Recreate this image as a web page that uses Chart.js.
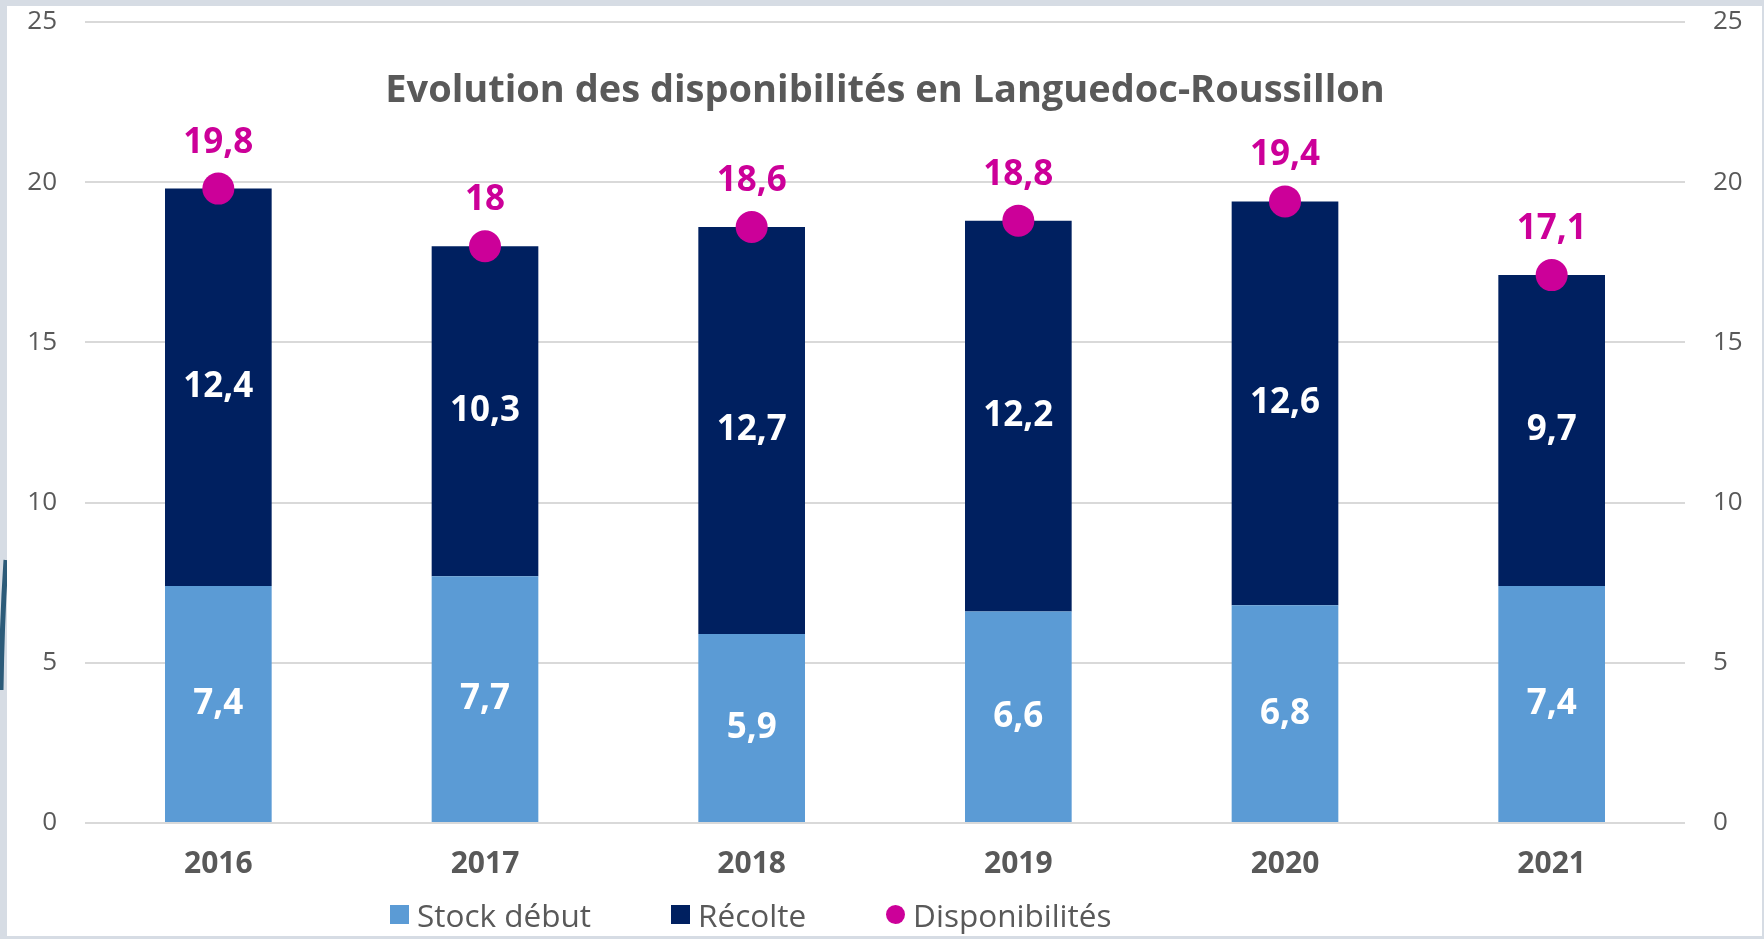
<!DOCTYPE html>
<html>
<head>
<meta charset="utf-8">
<script src="https://cdn.jsdelivr.net/npm/chart.js@4.4.1/dist/chart.umd.min.js"></script>
<style>
  body { margin: 0; background: #d6dce4; width: 1764px; height: 939px; overflow: hidden; position: relative; font-family: "Open Sans", sans-serif; }
  #panel { position: absolute; left: 7px; top: 6px; width: 1755px; height: 930px; background: #fff; }
  #deco { position: absolute; left: 0; top: 0; }
  #legend { position: absolute; left: 390px; top: 893px; display: flex; align-items: center; font-size: 31.5px; color: #595959; }
  #legend .item { display: flex; align-items: center; margin-right: 80px; }
  #legend .box { width: 19px; height: 19px; margin-right: 8px; }
  #legend .dot { border-radius: 50%; }
</style>
</head>
<body>
<svg id="deco" width="8" height="939"><path d="M6 560 Q 2 620 1 690" stroke="#2c5b79" stroke-width="5" fill="none"/></svg>
<div id="panel"><canvas id="myChart" width="1755" height="930"></canvas></div>
<div id="legend"></div>
<script>
const years = ['2016', '2017', '2018', '2019', '2020', '2021'];
const stockDebut = [7.4, 7.7, 5.9, 6.6, 6.8, 7.4];
const recolte = [12.4, 10.3, 12.7, 12.2, 12.6, 9.7];
const disponibilites = [19.8, 18, 18.6, 18.8, 19.4, 17.1];
const yTicks = [0, 5, 10, 15, 20, 25];

const chartTitle = 'Evolution des disponibilités en Languedoc-Roussillon';
const grey = '#595959';
const pink = '#cc0099';

const fmt = v => String(v).replace('.', ',');

// labels on the bars and above the dots
const valueLabels = {
  id: 'valueLabels',
  afterDatasetsDraw(chart) {
    const ctx = chart.ctx;
    ctx.save();
    ctx.textAlign = 'center';
    ctx.textBaseline = 'middle';
    ctx.font = 'bold 35px "Open Sans"';
    chart.data.datasets.forEach((ds, i) => {
      const meta = chart.getDatasetMeta(i);
      meta.data.forEach((el, j) => {
        if (ds.type === 'line') {
          ctx.fillStyle = pink;
          ctx.fillText(fmt(ds.data[j]), el.x, el.y - 46);
        } else {
          ctx.fillStyle = '#ffffff';
          ctx.fillText(fmt(ds.data[j]), el.x, (el.y + el.base) / 2);
        }
      });
    });
    // title sits inside the plot
    const a = chart.chartArea;
    ctx.fillStyle = grey;
    ctx.font = 'bold 38px "Open Sans"';
    ctx.fillText(chartTitle, (a.left + a.right) / 2, a.top + 69);
    ctx.restore();
  }
};

const data = {
  labels: years,
  datasets: [
    {
      type: 'line',
      label: 'Disponibilités',
      data: disponibilites,
      showLine: false,
      pointRadius: 16,
      pointHoverRadius: 16,
      pointBorderWidth: 0,
      pointBackgroundColor: pink,
      backgroundColor: pink,
      borderColor: pink,
      stack: 'dispo',
      order: 0
    },
    {
      type: 'bar',
      label: 'Stock début',
      data: stockDebut,
      backgroundColor: '#5b9bd5',
      stack: 'bars',
      order: 1
    },
    {
      type: 'bar',
      label: 'Récolte',
      data: recolte,
      backgroundColor: '#002060',
      stack: 'bars',
      order: 1
    }
  ]
};

const tickFont = { family: 'Open Sans', size: 26 };

const fitY = w => scale => {
  scale.width = w;
  scale.paddingTop = 0;
  scale.paddingBottom = 0;
};

const config = {
  data,
  plugins: [valueLabels],
  options: {
    responsive: false,
    animation: false,
    categoryPercentage: 0.4,
    barPercentage: 1,
    layout: { padding: { top: 16, left: 0, right: 0, bottom: 0 } },
    plugins: {
      legend: { display: false },
      title: { display: false },
      tooltip: { enabled: false }
    },
    scales: {
      x: {
        stacked: true,
        grid: { display: false },
        border: { display: false },
        ticks: { color: grey, font: { family: 'Open Sans', size: 30, weight: 'bold' }, padding: 15 },
        afterFit(scale) { scale.height = 113; scale.paddingLeft = 0; scale.paddingRight = 0; }
      },
      y: {
        stacked: true,
        min: 0,
        max: 25,
        afterBuildTicks(scale) { scale.ticks = yTicks.map(v => ({ value: v })); },
        grid: { color: '#d9d9d9', lineWidth: 2, drawTicks: false },
        border: { display: false },
        ticks: { color: grey, font: tickFont, padding: 28 },
        afterFit: fitY(78)
      },
      y2: {
        position: 'right',
        min: 0,
        max: 25,
        afterBuildTicks(scale) { scale.ticks = yTicks.map(v => ({ value: v })); },
        grid: { display: false, drawTicks: false },
        border: { display: false },
        ticks: { color: grey, font: tickFont, padding: 28 },
        afterFit: fitY(77)
      }
    }
  }
};

const myChart = new Chart(document.getElementById('myChart'), config);

// html legend, same order as the source
const legendOrder = ['Stock début', 'Récolte', 'Disponibilités'];
const legendEl = document.getElementById('legend');
legendOrder.forEach(name => {
  const ds = data.datasets.find(d => d.label === name);
  const item = document.createElement('div');
  item.className = 'item';
  const box = document.createElement('span');
  box.className = 'box' + (ds.type === 'line' ? ' dot' : '');
  box.style.background = ds.backgroundColor;
  const txt = document.createElement('span');
  txt.textContent = name;
  item.appendChild(box);
  item.appendChild(txt);
  legendEl.appendChild(item);
});
</script>
</body>
</html>
